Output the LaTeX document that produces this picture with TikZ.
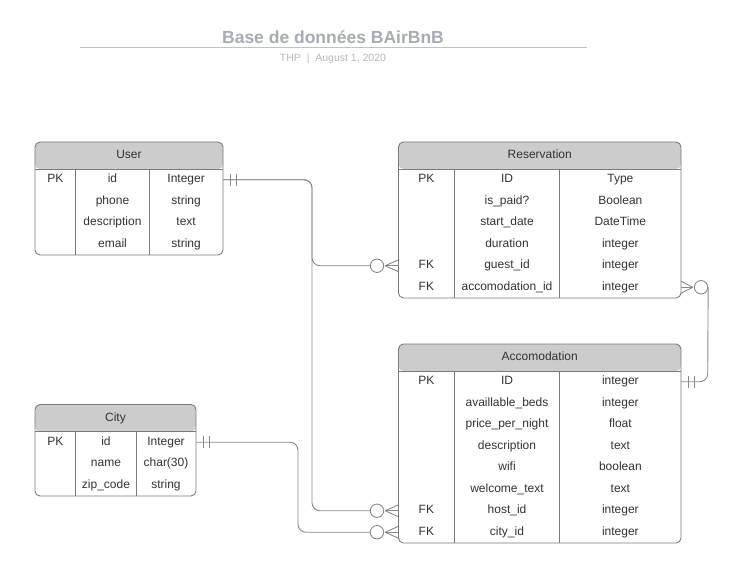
\documentclass[tikz,border=0pt]{standalone}
\usepackage{fontspec}
\setmainfont{Liberation Sans}
\usetikzlibrary{calc}
\definecolor{txt}{HTML}{333333}
\definecolor{bordc}{HTML}{7A7A7A}
\definecolor{hdr}{HTML}{CCCCCC}
\definecolor{connc}{HTML}{8A8A8A}
\definecolor{titlec}{HTML}{A6ABB4}
\definecolor{rulec}{HTML}{BEC2C7}
\definecolor{subc}{HTML}{B3B7BD}
\newcommand{\ERtable}[8]{%
  \node[tbl, minimum width=#4pt, minimum height=#5pt] (#1) at (#2,#3) {};
  \node[cell] (#1-head) at ([yshift=-13.5pt]#1.north) {#6};
  \draw[tline] ([yshift=-27pt]#1.north west) -- ([yshift=-27pt]#1.north east);
  \draw[tline] ([xshift=#7pt,yshift=-27pt]#1.north west) -- ([xshift=#7pt]#1.south west);
  \draw[tline] ([xshift=#8pt,yshift=-27pt]#1.north west) -- ([xshift=#8pt]#1.south west);
}
\newcommand{\ERrow}[8]{%
  \node[cell] (#1-k) at (#3,#2) {#6};
  \node[cell] (#1-f) at (#4,#2) {#7};
  \node[cell] (#1-t) at (#5,#2) {#8};
}
\begin{document}
\begin{tikzpicture}[x=1pt,y=-1pt,
  tbl/.style={draw=bordc, line width=0.9pt, rounded corners=5pt, inner sep=0pt, outer sep=0pt, fill=white,
    path picture={\fill[hdr] (path picture bounding box.north west) rectangle ([yshift=-27pt]path picture bounding box.north east);}},
  cell/.style={font=\fontsize{12}{14}\selectfont, text=txt, inner sep=0pt, text height=8.6pt, text depth=2.5pt},
  tline/.style={draw=bordc, line width=0.9pt},
  conn/.style={draw=connc, line width=0.9pt},
  zc/.style={circle, draw=connc, fill=white, line width=0.9pt, minimum size=13.4pt, inner sep=0pt},
  titlestyle/.style={font=\fontsize{17.5}{20}\selectfont\bfseries, text=titlec, inner sep=0pt},
  substyle/.style={font=\fontsize{10.5}{12}\selectfont, text=subc, inner sep=0pt}
]
\useasboundingbox (0,0) rectangle (737,583);

% title
\node[titlestyle] (title) at (333,37) {Base de données BAirBnB};
\coordinate (ruleL) at (80,48);
\coordinate (ruleR) at (587,48);
\draw[rulec, line width=1pt] (ruleL) -- (ruleR);
\node[substyle] (sub) at (333,59) {THP\ \ |\ \ August 1, 2020};

% User
\ERtable{user}{129}{198.5}{188}{113}{User}{40.7}{114.3}
\ERrow{u1}{179.75}{55.35}{112.5}{186.15}{PK}{id}{Integer}
\ERrow{u2}{201.25}{55.35}{112.5}{186.15}{}{phone}{string}
\ERrow{u3}{222.75}{55.35}{112.5}{186.15}{}{description}{text}
\ERrow{u4}{244.25}{55.35}{112.5}{186.15}{}{email}{string}

% Reservation
\ERtable{res}{539.75}{220}{282.5}{156}{Reservation}{55.8}{161.2}
\ERrow{r1}{179.75}{426.4}{507}{620.35}{PK}{ID}{Type}
\ERrow{r2}{201.25}{426.4}{507}{620.35}{}{is\_paid?}{Boolean}
\ERrow{r3}{222.75}{426.4}{507}{620.35}{}{start\_date}{DateTime}
\ERrow{r4}{244.25}{426.4}{507}{620.35}{}{duration}{integer}
\ERrow{r5}{265.75}{426.4}{507}{620.35}{FK}{guest\_id}{integer}
\ERrow{r6}{287.25}{426.4}{507}{620.35}{FK}{accomodation\_id}{integer}

% Accomodation
\ERtable{acc}{539.75}{443.5}{282.5}{199}{Accomodation}{55.8}{161.2}
\ERrow{a1}{381.75}{426.4}{507}{620.35}{PK}{ID}{integer}
\ERrow{a2}{403.25}{426.4}{507}{620.35}{}{availlable\_beds}{integer}
\ERrow{a3}{424.75}{426.4}{507}{620.35}{}{price\_per\_night}{float}
\ERrow{a4}{446.25}{426.4}{507}{620.35}{}{description}{text}
\ERrow{a5}{467.75}{426.4}{507}{620.35}{}{wifi}{boolean}
\ERrow{a6}{489.25}{426.4}{507}{620.35}{}{welcome\_text}{text}
\ERrow{a7}{510.75}{426.4}{507}{620.35}{FK}{host\_id}{integer}
\ERrow{a8}{532.25}{426.4}{507}{620.35}{FK}{city\_id}{integer}

% City
\ERtable{city}{115.5}{450.25}{161}{91.5}{City}{40.7}{101}
\ERrow{c1}{442.25}{55.35}{106}{166}{PK}{id}{Integer}
\ERrow{c2}{463.75}{55.35}{106}{166}{}{name}{char(30)}
\ERrow{c3}{485.25}{55.35}{106}{166}{}{zip\_code}{string}

% connector helpers
\coordinate (v1) at (312,0);
\coordinate (v2) at (298,0);
\coordinate (uA) at (user.east |- u1-t);
\coordinate (cA) at (city.east |- c1-t);
\coordinate (aA) at (acc.east |- a1-t);
\coordinate (vr) at (707.7,0);

% zero-or-many circles
\node[zc] (z1) at (377,265.75) {};
\node[zc] (z2) at (377,510.75) {};
\node[zc] (z3) at (377,532.25) {};
\node[zc] (z4) at (701,287.25) {};

% lines
\draw[conn, rounded corners=8pt] (uA) -- (v1 |- uA) -- (v1 |- z1) -- (z1.west);
\draw[conn, rounded corners=8pt] (uA) -- (v1 |- uA) -- (v1 |- z2) -- (z2.west);
\draw[conn, rounded corners=8pt] (cA) -- (v2 |- cA) -- (v2 |- z3) -- (z3.west);
\draw[conn, rounded corners=8pt] (z4.east) -- (vr |- aA) -- (aA);

% one-and-only-one bars
\foreach \p in {uA,cA}{
  \draw[conn] ([xshift=7pt,yshift=6pt]\p) -- ([xshift=7pt,yshift=-6pt]\p);
  \draw[conn] ([xshift=13.5pt,yshift=6pt]\p) -- ([xshift=13.5pt,yshift=-6pt]\p);
}
\draw[conn] ([xshift=7pt,yshift=6pt]aA) -- ([xshift=7pt,yshift=-6pt]aA);
\draw[conn] ([xshift=13.5pt,yshift=6pt]aA) -- ([xshift=13.5pt,yshift=-6pt]aA);

% crow's feet (left side of tables)
\foreach \z/\t in {z1/res,z2/acc,z3/acc}{
  \coordinate (edge) at (\t.west |- \z);
  \draw[conn] ([xshift=1pt]\z.east) -- ([yshift=6pt]edge);
  \draw[conn] ([xshift=1pt]\z.east) -- (edge);
  \draw[conn] ([xshift=1pt]\z.east) -- ([yshift=-6pt]edge);
}
% crow's foot on right of Reservation
\coordinate (edgeR) at (res.east |- z4);
\draw[conn] ([xshift=-1pt]z4.west) -- ([yshift=6pt]edgeR);
\draw[conn] ([xshift=-1pt]z4.west) -- (edgeR);
\draw[conn] ([xshift=-1pt]z4.west) -- ([yshift=-6pt]edgeR);
\end{tikzpicture}
\end{document}
